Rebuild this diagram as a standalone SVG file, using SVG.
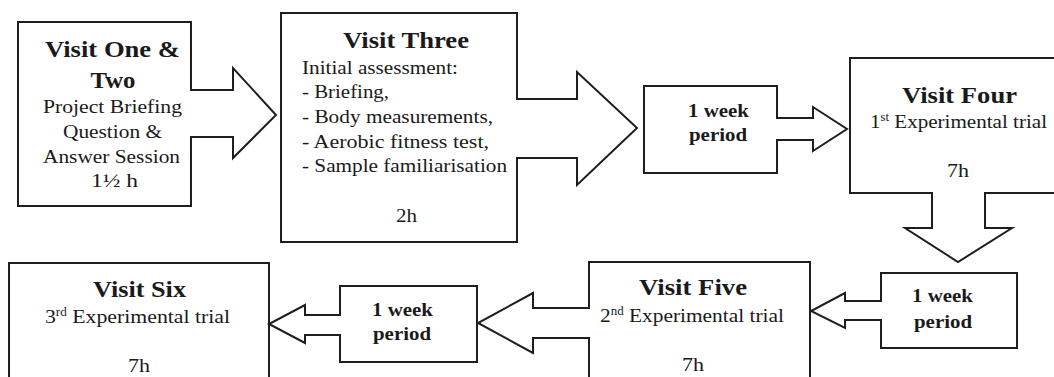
<svg xmlns="http://www.w3.org/2000/svg" width="1054" height="377" viewBox="0 0 1054 377">
<style>
.box{fill:#fff;stroke:#1e1e1e;stroke-width:2}
.af{fill:#fff;stroke:none}
.as{fill:none;stroke:#1e1e1e;stroke-width:2;stroke-linejoin:miter}
text{font-family:"Liberation Serif","Times New Roman",serif;fill:#1a1a1a}
.t{font-size:23px;font-weight:bold;text-anchor:middle}
.b{font-size:19px}
.c{text-anchor:middle}
.w{font-size:19.5px;font-weight:bold;text-anchor:middle}
.sup{font-size:11.5px}
</style>
<rect width="1054" height="377" fill="#fff"/>
<g id="visit-one-two">
<rect class="box" x="18" y="22" width="173" height="184"/>
<text class="t" x="112.5" y="57" textLength="135" lengthAdjust="spacingAndGlyphs">Visit One &amp;</text>
<text class="t" x="113" y="88" textLength="45" lengthAdjust="spacingAndGlyphs">Two</text>
<text class="b c" x="112.5" y="113" textLength="139" lengthAdjust="spacingAndGlyphs">Project Briefing</text>
<text class="b c" x="112.5" y="138" textLength="99" lengthAdjust="spacingAndGlyphs">Question &amp;</text>
<text class="b c" x="111.5" y="163" textLength="137" lengthAdjust="spacingAndGlyphs">Answer Session</text>
<text class="b c" x="114.5" y="187" textLength="47" lengthAdjust="spacingAndGlyphs">1½ h</text>
</g>
<g id="visit-three">
<rect class="box" x="281" y="13" width="236" height="229"/>
<text class="t" x="406" y="48" textLength="126" lengthAdjust="spacingAndGlyphs">Visit Three</text>
<text class="b" x="302" y="74" textLength="156" lengthAdjust="spacingAndGlyphs">Initial assessment:</text>
<text class="b" x="302" y="98" textLength="87" lengthAdjust="spacingAndGlyphs">- Briefing,</text>
<text class="b" x="302" y="123" textLength="191" lengthAdjust="spacingAndGlyphs">- Body measurements,</text>
<text class="b" x="302" y="148" textLength="187" lengthAdjust="spacingAndGlyphs">- Aerobic fitness test,</text>
<text class="b" x="302" y="172" textLength="205" lengthAdjust="spacingAndGlyphs">- Sample familiarisation</text>
<text class="b c" x="406.5" y="222" textLength="21" lengthAdjust="spacingAndGlyphs">2h</text>
</g>
<g id="week-one">
<rect class="box" x="644" y="86" width="133" height="87"/>
<text class="w" x="718.5" y="117" textLength="61" lengthAdjust="spacingAndGlyphs">1 week</text>
<text class="w" x="718" y="141" textLength="58" lengthAdjust="spacingAndGlyphs">period</text>
</g>
<g id="visit-four">
<rect class="box" x="850" y="58" width="212" height="135"/>
<text class="t" x="959.5" y="103" textLength="115" lengthAdjust="spacingAndGlyphs">Visit Four</text>
<text class="b c" x="958.5" y="128" textLength="177" lengthAdjust="spacingAndGlyphs">1<tspan class="sup" dy="-7">st</tspan><tspan dy="7"> Experimental trial</tspan></text>
<text class="b c" x="958" y="177" textLength="22" lengthAdjust="spacingAndGlyphs">7h</text>
</g>
<g id="week-two">
<rect class="box" x="881" y="273" width="136" height="75"/>
<text class="w" x="942.5" y="302" textLength="61" lengthAdjust="spacingAndGlyphs">1 week</text>
<text class="w" x="943" y="328" textLength="58" lengthAdjust="spacingAndGlyphs">period</text>
</g>
<g id="visit-five">
<rect class="box" x="589" y="262" width="221" height="130"/>
<text class="t" x="693" y="295" textLength="108" lengthAdjust="spacingAndGlyphs">Visit Five</text>
<text class="b c" x="692" y="322" textLength="184" lengthAdjust="spacingAndGlyphs">2<tspan class="sup" dy="-7">nd</tspan><tspan dy="7"> Experimental trial</tspan></text>
<text class="b c" x="693" y="371" textLength="22" lengthAdjust="spacingAndGlyphs">7h</text>
</g>
<g id="week-three">
<rect class="box" x="340" y="286" width="137" height="76"/>
<text class="w" x="402.5" y="316" textLength="61" lengthAdjust="spacingAndGlyphs">1 week</text>
<text class="w" x="402" y="340" textLength="58" lengthAdjust="spacingAndGlyphs">period</text>
</g>
<g id="visit-six">
<rect class="box" x="9" y="263" width="260" height="130"/>
<text class="t" x="139.5" y="297" textLength="93" lengthAdjust="spacingAndGlyphs">Visit Six</text>
<text class="b c" x="137.5" y="323" textLength="185" lengthAdjust="spacingAndGlyphs">3<tspan class="sup" dy="-7">rd</tspan><tspan dy="7"> Experimental trial</tspan></text>
<text class="b c" x="139" y="372" textLength="22" lengthAdjust="spacingAndGlyphs">7h</text>
</g>
<g id="connectors">
<polygon class="af" points="188,91 233,91 233,68 276,115 233,158 233,136 188,136"/>
<polyline class="as" points="191,90 233,90 233,68 276,115 233,158 233,137 191,137"/>
<polygon class="af" points="514,100 577,100 577,72 637,128 577,185 577,157 514,157"/>
<polyline class="as" points="517,99 577,99 577,72 637,128 577,185 577,158 517,158"/>
<polygon class="af" points="774,119 813,119 813,107 847,129 813,151 813,139 774,139"/>
<polyline class="as" points="777,118 813,118 813,107 847,129 813,151 813,140 777,140"/>
<polygon class="af" points="933,190 933,228 905,228 958,262 1012,228 984,228 984,190"/>
<polyline class="as" points="932,193 932,228 905,228 958,262 1012,228 985,228 985,193"/>
<polygon class="af" points="884,302 845,302 845,293 811,311 845,328 845,319 884,319"/>
<polyline class="as" points="881,301 845,301 845,293 811,311 845,328 845,320 881,320"/>
<polygon class="af" points="592,309 533,309 533,293 478,323 533,353 533,337 592,337"/>
<polyline class="as" points="589,308 533,308 533,293 478,323 533,353 533,338 589,338"/>
<polygon class="af" points="343,316 305,316 305,305 269,324 305,343 305,334 343,334"/>
<polyline class="as" points="340,315 305,315 305,305 269,324 305,343 305,335 340,335"/>
</g>
</svg>
